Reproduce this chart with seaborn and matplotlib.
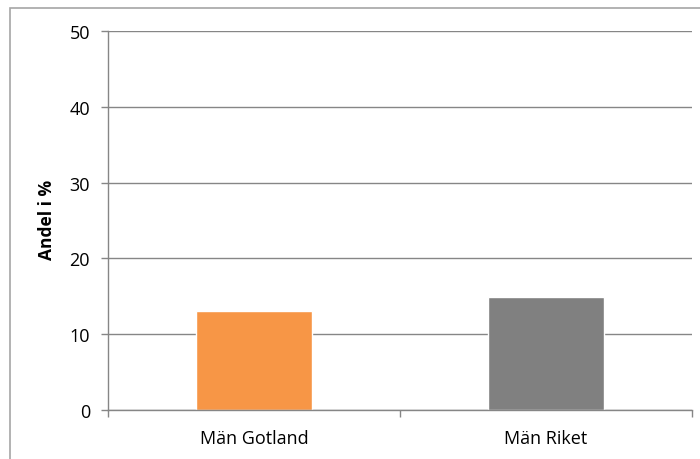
import matplotlib
matplotlib.use("Agg")
import matplotlib.pyplot as plt
import seaborn as sns
import pandas as pd
from matplotlib.patches import Rectangle
from matplotlib.ticker import FixedLocator

categories = ["Män Gotland", "Män Riket"]
values = [13.0, 14.9]
colors = ["#F79646", "#808080"]
yticks = [0, 10, 20, 30, 40, 50]
ylabel = "Andel i %"

sns.set_theme(style="white")
plt.rcParams["font.family"] = ["Open Sans", "DejaVu Sans"]

df = pd.DataFrame({"cat": categories, "val": values})

fig = plt.figure(figsize=(7, 4.6), dpi=100)
W, H = 700, 460
ax = fig.add_axes([108 / W, (H - 411) / H, 584 / W, 379 / H])

sns.barplot(data=df, x="cat", y="val", hue="cat", palette=colors,
            width=0.394, legend=False, ax=ax, saturation=1)

ax.set_ylim(0, 50)
ax.set_xlim(-0.5, 1.5)
ax.set_yticks(yticks)
ax.yaxis.grid(True, color="#868686", linewidth=1)
ax.set_axisbelow(True)
for s in ["top", "right"]:
    ax.spines[s].set_visible(False)
for s in ["left", "bottom"]:
    ax.spines[s].set_color("#868686")
    ax.spines[s].set_linewidth(1)

ax.tick_params(axis="y", which="major", length=5, color="#868686", width=1,
               labelsize=13, labelcolor="#000000", left=True, pad=8)
ax.tick_params(axis="x", which="major", length=0, labelsize=13,
               labelcolor="#000000", pad=14)
ax.xaxis.set_minor_locator(FixedLocator([-0.5, 0.5, 1.5]))
ax.tick_params(axis="x", which="minor", length=5, color="#868686", width=1,
               bottom=True)
ax.set_xlabel("")
ax.set_ylabel("")
fig.text(47.5 / W, 1 - 220 / H, ylabel, rotation=90, ha="center", va="center",
         fontsize=12.5, fontweight="bold", color="#000000")

fig.patches.append(Rectangle((10 / W, -0.1), 1.2, 1.1 - 9 / H,
                             transform=fig.transFigure, fill=False,
                             edgecolor="#A6A6A6", linewidth=1.2))

fig.savefig("out.png", dpi=100, facecolor="white")
